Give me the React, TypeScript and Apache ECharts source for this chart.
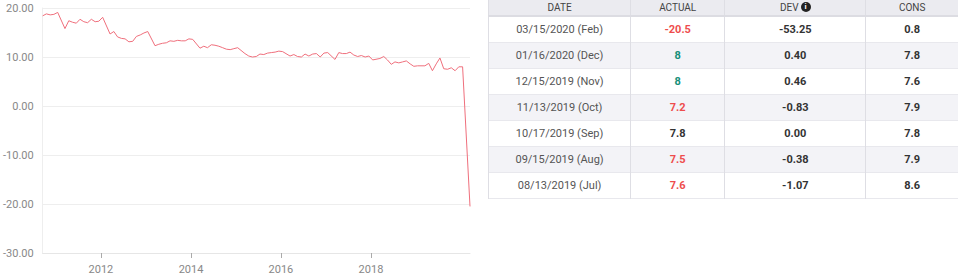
import React, { useEffect, useRef } from "react";
import * as echarts from "echarts";

const releaseDates: string[] = [
  "2010-09-15", "2010-10-15", "2010-11-15", "2010-12-15",
  "2011-01-15", "2011-03-15", "2011-04-15", "2011-05-15", "2011-06-15", "2011-07-15", "2011-08-15", "2011-09-15", "2011-10-15", "2011-11-15", "2011-12-15",
  "2012-01-15", "2012-03-15", "2012-04-15", "2012-05-15", "2012-06-15", "2012-07-15", "2012-08-15", "2012-09-15", "2012-10-15", "2012-11-15", "2012-12-15",
  "2013-01-15", "2013-03-15", "2013-04-15", "2013-05-15", "2013-06-15", "2013-07-15", "2013-08-15", "2013-09-15", "2013-10-15", "2013-11-15", "2013-12-15",
  "2014-01-15", "2014-03-15", "2014-04-15", "2014-05-15", "2014-06-15", "2014-07-15", "2014-08-15", "2014-09-15", "2014-10-15", "2014-11-15", "2014-12-15",
  "2015-01-15", "2015-03-15", "2015-04-15", "2015-05-15", "2015-06-15", "2015-07-15", "2015-08-15", "2015-09-15", "2015-10-15", "2015-11-15", "2015-12-15",
  "2016-01-15", "2016-03-15", "2016-04-15", "2016-05-15", "2016-06-15", "2016-07-15", "2016-08-15", "2016-09-15", "2016-10-15", "2016-11-15", "2016-12-15",
  "2017-01-15", "2017-03-15", "2017-04-15", "2017-05-15", "2017-06-15", "2017-07-15", "2017-08-15", "2017-09-15", "2017-10-15", "2017-11-15", "2017-12-15",
  "2018-01-15", "2018-03-15", "2018-04-15", "2018-05-15", "2018-06-15", "2018-07-15", "2018-08-15", "2018-09-15", "2018-10-15", "2018-11-15", "2018-12-15",
  "2019-01-15", "2019-03-15", "2019-04-15", "2019-05-15", "2019-06-15", "2019-07-15", "2019-08-15", "2019-09-15", "2019-10-15", "2019-11-15", "2019-12-15",
  "2020-01-15", "2020-03-15",
];

const actualValues: number[] = [
  18.4, 18.8, 18.6, 18.7,
  19.1, 15.8, 17.4, 17.1, 16.9, 17.7, 17.2, 17.0, 17.7, 17.2, 17.3,
  18.1, 14.7, 15.2, 14.1, 13.8, 13.7, 13.1, 13.2, 14.2, 14.5, 14.9,
  15.2, 12.3, 12.6, 12.8, 12.9, 13.3, 13.2, 13.4, 13.3, 13.3, 13.7,
  13.6, 11.8, 12.2, 11.9, 12.5, 12.4, 12.2, 11.9, 11.6, 11.5, 11.7,
  11.9, 10.7, 10.2, 10.0, 10.1, 10.6, 10.5, 10.8, 10.9, 11.0, 11.2,
  11.1, 10.2, 10.5, 10.1, 10.0, 10.6, 10.2, 10.6, 10.7, 10.0, 10.8,
  10.9, 9.5, 10.9, 10.7, 10.7, 11.0, 10.4, 10.1, 10.3, 10.0, 10.2,
  9.4, 9.7, 10.1, 9.4, 8.5, 9.0, 8.8, 9.0, 9.2, 8.6, 8.1,
  8.2, 8.2, 8.7, 7.2, 8.6, 9.8, 7.6, 7.5, 7.8, 7.2, 8.0,
  8.0, -20.5,
];

const xTickYears: number[] = [2012, 2014, 2016, 2018];

const tableDates: string[] = [
  "03/15/2020 (Feb)", "01/16/2020 (Dec)", "12/15/2019 (Nov)", "11/13/2019 (Oct)",
  "10/17/2019 (Sep)", "09/15/2019 (Aug)", "08/13/2019 (Jul)",
];
const tableActual: string[] = ["-20.5", "8", "8", "7.2", "7.8", "7.5", "7.6"];
const tableDev: string[] = ["-53.25", "0.40", "0.46", "-0.83", "0.00", "-0.38", "-1.07"];
const tableCons: string[] = ["0.8", "7.8", "7.6", "7.9", "7.8", "7.9", "8.6"];
const tableHeaders: string[] = ["DATE", "ACTUAL", "DEV", "CONS"];

const FONT = "Roboto, 'Noto Sans', sans-serif";

function Chart() {
  const ref = useRef<HTMLDivElement>(null);
  useEffect(() => {
    if (!ref.current) return;
    const chart = echarts.init(ref.current, null, { renderer: "svg" });
    const times = releaseDates.map((d) => new Date(d + "T00:00:00Z").getTime());
    const data = times.map((t, i) => [t, actualValues[i]]);
    const tickVals = xTickYears.map((y) => Date.UTC(y, 0, 1));
    chart.setOption({
      animation: false,
      grid: { left: 39, right: 10, top: 8, bottom: 27 },
      xAxis: {
        type: "value",
        min: times[0],
        max: times[times.length - 1],
        axisLine: { show: true, onZero: false, lineStyle: { color: "#e6e6e6", width: 1 } },
        axisTick: { show: true, customValues: tickVals, length: 5, lineStyle: { color: "#aaa" } },
        axisLabel: {
          customValues: tickVals,
          formatter: (v: number) => String(new Date(v).getUTCFullYear()),
          color: "#888",
          fontSize: 11,
          fontFamily: FONT,
          margin: 11,
        },
        splitLine: { show: false },
      },
      yAxis: {
        type: "value",
        min: -30,
        max: 20,
        interval: 10,
        axisLine: { show: true, lineStyle: { color: "#eeeeee" } },
        axisTick: { show: false },
        axisLabel: {
          formatter: (v: number) => v.toFixed(2),
          color: "#888",
          fontSize: 11,
          fontFamily: FONT,
          margin: 9,
        },
        splitLine: { show: true, lineStyle: { color: "#eeeeee", width: 1 } },
      },
      series: [
        {
          type: "line",
          data,
          showSymbol: false,
          lineStyle: { color: "#ef6f7c", width: 1 },
          itemStyle: { color: "#ef6f7c" },
        },
      ],
    });
    return () => chart.dispose();
  }, []);
  return <div ref={ref} style={{ position: "absolute", left: 0, top: 0, width: 480, height: 280 }} />;
}

function actualColor(a: string, c: string): string {
  const av = parseFloat(a);
  const cv = parseFloat(c);
  if (av < cv) return "#ee4d4d";
  if (av > cv) return "#17907a";
  return "#333";
}

export default function App() {
  useEffect(() => {
    document.body.style.margin = "0";
  }, []);
  const colWidths = [142, 94, 141, 92];
  const cellBase: React.CSSProperties = {
    textAlign: "center",
    fontFamily: FONT,
    fontSize: 11,
    borderLeft: "1px solid #dedee4",
    padding: 0,
  };
  return (
    <div style={{ position: "absolute", left: 0, top: 0, width: 958, height: 280, background: "#fff", overflow: "hidden" }}>
      <Chart />
      <table
        style={{
          position: "absolute",
          left: 488,
          top: 0,
          width: 470,
          borderCollapse: "collapse",
          tableLayout: "fixed",
        }}
      >
        <colgroup>
          {colWidths.map((w, i) => (
            <col key={i} style={{ width: w }} />
          ))}
        </colgroup>
        <thead>
          <tr style={{ height: 15, background: "#ebebf0", borderBottom: "2px solid #dcdce2" }}>
            {tableHeaders.map((h, i) => (
              <th key={h} style={{ ...cellBase, fontSize: 10, fontWeight: 400, color: "#444", lineHeight: "15px" }}>
                {h}
                {i === 2 ? (
                  <span
                    style={{
                      display: "inline-block",
                      width: 10,
                      height: 10,
                      borderRadius: "50%",
                      background: "#222",
                      color: "#fff",
                      fontSize: 8,
                      fontWeight: 700,
                      lineHeight: "10px",
                      marginLeft: 2,
                      verticalAlign: "middle",
                      position: "relative",
                      top: -1,
                    }}
                  >
                    i
                  </span>
                ) : null}
              </th>
            ))}
          </tr>
        </thead>
        <tbody>
          {tableDates.map((d, r) => (
            <tr
              key={d}
              style={{
                height: 26,
                background: r % 2 === 1 ? "#f3f3f7" : "#ffffff",
                borderBottom: "1px solid #e8e8ed",
              }}
            >
              <td style={{ ...cellBase, color: "#555" }}>{d}</td>
              <td style={{ ...cellBase, fontWeight: 700, color: actualColor(tableActual[r], tableCons[r]) }}>
                {tableActual[r]}
              </td>
              <td style={{ ...cellBase, fontWeight: 700, color: "#333" }}>{tableDev[r]}</td>
              <td style={{ ...cellBase, fontWeight: 700, color: "#333" }}>{tableCons[r]}</td>
            </tr>
          ))}
        </tbody>
      </table>
    </div>
  );
}
